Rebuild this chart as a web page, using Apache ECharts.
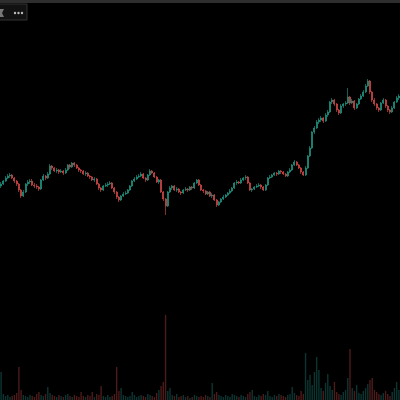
<!DOCTYPE html>
<html>
<head>
<meta charset="utf-8">
<script src="https://cdn.jsdelivr.net/npm/echarts@6/dist/echarts.min.js"></script>
<style>
  html, body { margin: 0; padding: 0; background: #000; }
  #main { width: 400px; height: 400px; }
</style>
</head>
<body>
<div id="main"></div>
<script>
// [open, close, low, high]
const ohlc = [
  [214,216,212,218],[216,219,215,220],[219,222,218,224],[222,224,221,226],[224,225,222,227],
  [225,222,221,226],[222,219,217,223],[219,216,214,220],[216,210,208,217],[210,204,202,211],
  [204,208,203,210],[208,216,207,217],[216,218,214,220],[218,219,216,221],[219,215,214,221],
  [215,214,212,217],[214,213,211,216],[213,211,209,214],[211,220,210,221],[220,224,219,226],
  [224,222,220,225],[222,226,221,228],[226,234,225,236],[234,232,230,235],[232,229,228,233],
  [229,230,227,232],[230,228,226,231],[228,229,227,231],[229,227,225,230],[227,230,226,232],
  [230,235,229,236],[235,233,231,236],[233,237,232,238],[237,235,233,238],[235,232,231,236],
  [232,230,228,233],[230,229,227,231],[229,226,225,230],[226,227,224,229],[227,224,223,228],
  [224,223,221,225],[223,220,219,224],[220,221,218,223],[221,216,215,222],[216,212,210,217],
  [212,210,208,213],[210,214,209,215],[214,215,213,217],[215,216,213,218],[216,217,215,219],
  [217,212,211,218],[212,208,206,213],[208,203,201,209],[203,200,198,204],[200,204,199,205],
  [204,206,203,208],[206,207,205,209],[207,210,206,211],[210,214,209,215],[214,219,213,220],
  [219,221,218,223],[221,223,220,225],[223,224,222,226],[224,226,223,228],[226,222,221,227],
  [222,220,218,223],[220,225,219,226],[225,229,224,231],[229,227,226,230],[227,223,222,228],
  [223,218,217,224],[218,220,216,221],[220,208,207,221],[208,201,199,209],[201,194,185,202],
  [194,208,193,209],[208,212,207,214],[212,214,210,215],[214,210,209,215],[210,211,208,213],
  [211,208,207,212],[208,207,205,209],[207,210,206,211],[210,211,209,213],[211,210,208,212],
  [210,213,209,214],[213,212,210,214],[212,217,211,218],[217,220,216,221],[220,215,214,221],
  [215,210,209,216],[210,209,207,211],[209,206,205,210],[206,208,205,209],[208,204,203,209],
  [204,205,202,207],[205,200,199,206],[200,195,193,201],[195,198,194,199],[198,201,197,202],
  [201,203,200,205],[203,205,202,206],[205,207,204,208],[207,209,206,211],[209,212,208,213],
  [212,217,211,218],[217,218,215,220],[218,217,216,219],[217,220,216,222],[220,222,219,223],
  [222,223,220,225],[223,217,216,224],[217,210,209,218],[210,211,208,212],[211,213,210,214],
  [213,214,212,216],[214,215,213,217],[215,213,211,216],[213,210,209,214],[210,215,209,216],
  [215,222,214,223],[222,223,221,225],[223,225,222,226],[225,227,224,228],[227,226,224,228],
  [226,229,225,230],[229,228,226,230],[228,226,225,229],[226,224,223,227],[224,228,223,229],
  [228,230,227,232],[230,235,229,236],[235,238,234,240],[238,235,234,239],[235,232,231,236],
  [232,228,226,233],[228,225,224,229],[225,232,224,234],[232,244,231,245],[244,252,243,254],
  [252,268,251,269],[268,272,266,274],[272,278,271,280],[278,280,276,282],[280,282,278,284],
  [282,279,277,283],[279,285,278,287],[285,288,283,290],[288,298,287,299],[298,300,296,302],
  [300,296,294,301],[296,290,288,297],[290,287,285,291],[287,294,286,296],[294,296,292,297],
  [296,297,294,299],[297,303,296,312],[303,297,295,304],[297,299,296,301],[299,292,290,300],
  [292,296,291,297],[296,301,295,302],[301,304,300,306],[304,308,303,310],[308,314,307,316],
  [314,319,313,321],[319,308,306,320],[308,300,298,309],[300,296,294,302],[296,292,290,297],
  [292,290,288,293],[290,297,289,298],[297,300,296,302],[300,294,292,301],[294,290,288,295],
  [290,288,286,291],[288,292,287,294],[292,298,291,299],[298,302,297,304],[302,304,300,306]
];

const volumes = [
  28,6,4,5,3,4,5,7,33,
  10,5,4,3,5,4,3,6,8,
  5,4,6,13,7,5,4,3,5,
  4,3,5,6,4,3,5,4,3,
  8,4,3,5,4,8,3,6,5,
  14,4,3,5,3,4,6,33,9,
  12,5,4,3,4,8,5,3,4,
  5,4,3,6,5,4,3,7,10,
  14,18,85,9,12,5,4,6,3,
  4,5,3,4,2,3,5,4,3,
  4,3,5,4,3,17,6,8,5,
  4,3,5,4,3,6,5,4,3,
  5,4,3,6,8,10,4,3,5,
  4,6,5,9,4,3,5,4,6,
  5,4,3,5,6,13,7,5,4,
  9,6,47,20,25,15,28,43,30,
  12,9,17,26,14,10,18,8,6,
  5,8,10,22,51,12,9,15,7,
  6,9,12,16,20,22,10,8,6,
  5,7,9,6,4,8,12,18,10
];

const upColor = '#22a08c';
const downColor = '#e04f4f';

const bars = ohlc.map(function (d, i) { return i; });
const volumeData = volumes.map(function (v, i) {
  const up = ohlc[i][1] >= ohlc[i][0];
  return {
    value: v,
    itemStyle: { color: up ? 'rgba(38,166,154,0.32)' : 'rgba(239,83,80,0.32)' }
  };
});

const chart = echarts.init(document.getElementById('main'));
chart.setOption({
  backgroundColor: '#000',
  animation: false,
  grid: [
    { left: 0, right: 0, top: 0, bottom: 0 },
    { left: 0, right: 0, top: 300, bottom: 0 }
  ],
  xAxis: [
    { type: 'category', data: bars, gridIndex: 0, show: false },
    { type: 'category', data: bars, gridIndex: 1, show: false }
  ],
  yAxis: [
    { type: 'value', gridIndex: 0, min: 0, max: 400, show: false, splitLine: { show: false } },
    { type: 'value', gridIndex: 1, min: 0, max: 100, show: false, splitLine: { show: false } }
  ],
  series: [
    {
      type: 'bar',
      xAxisIndex: 1,
      yAxisIndex: 1,
      data: volumeData,
      barWidth: 1.4
    },
    {
      type: 'candlestick',
      xAxisIndex: 0,
      yAxisIndex: 0,
      data: ohlc,
      barWidth: 1.5,
      itemStyle: {
        color: upColor,
        color0: downColor,
        borderColor: upColor,
        borderColor0: downColor,
        borderWidth: 0.6
      }
    }
  ],
  graphic: [
    { type: 'rect', shape: { x: 0, y: 0, width: 400, height: 3 }, style: { fill: '#2e2e2e' } },
    { type: 'rect', shape: { x: -1, y: 4, width: 28, height: 16 }, style: { fill: '#121212', stroke: '#333', lineWidth: 1 } },
    { type: 'polygon', shape: { points: [[0, 9], [4, 9], [2, 13], [4, 17], [0, 17]] }, style: { fill: '#777' } },
    { type: 'circle', shape: { cx: 15, cy: 13, r: 1.2 }, style: { fill: '#bbb' } },
    { type: 'circle', shape: { cx: 18.5, cy: 13, r: 1.2 }, style: { fill: '#bbb' } },
    { type: 'circle', shape: { cx: 22, cy: 13, r: 1.2 }, style: { fill: '#bbb' } }
  ]
});
</script>
</body>
</html>
